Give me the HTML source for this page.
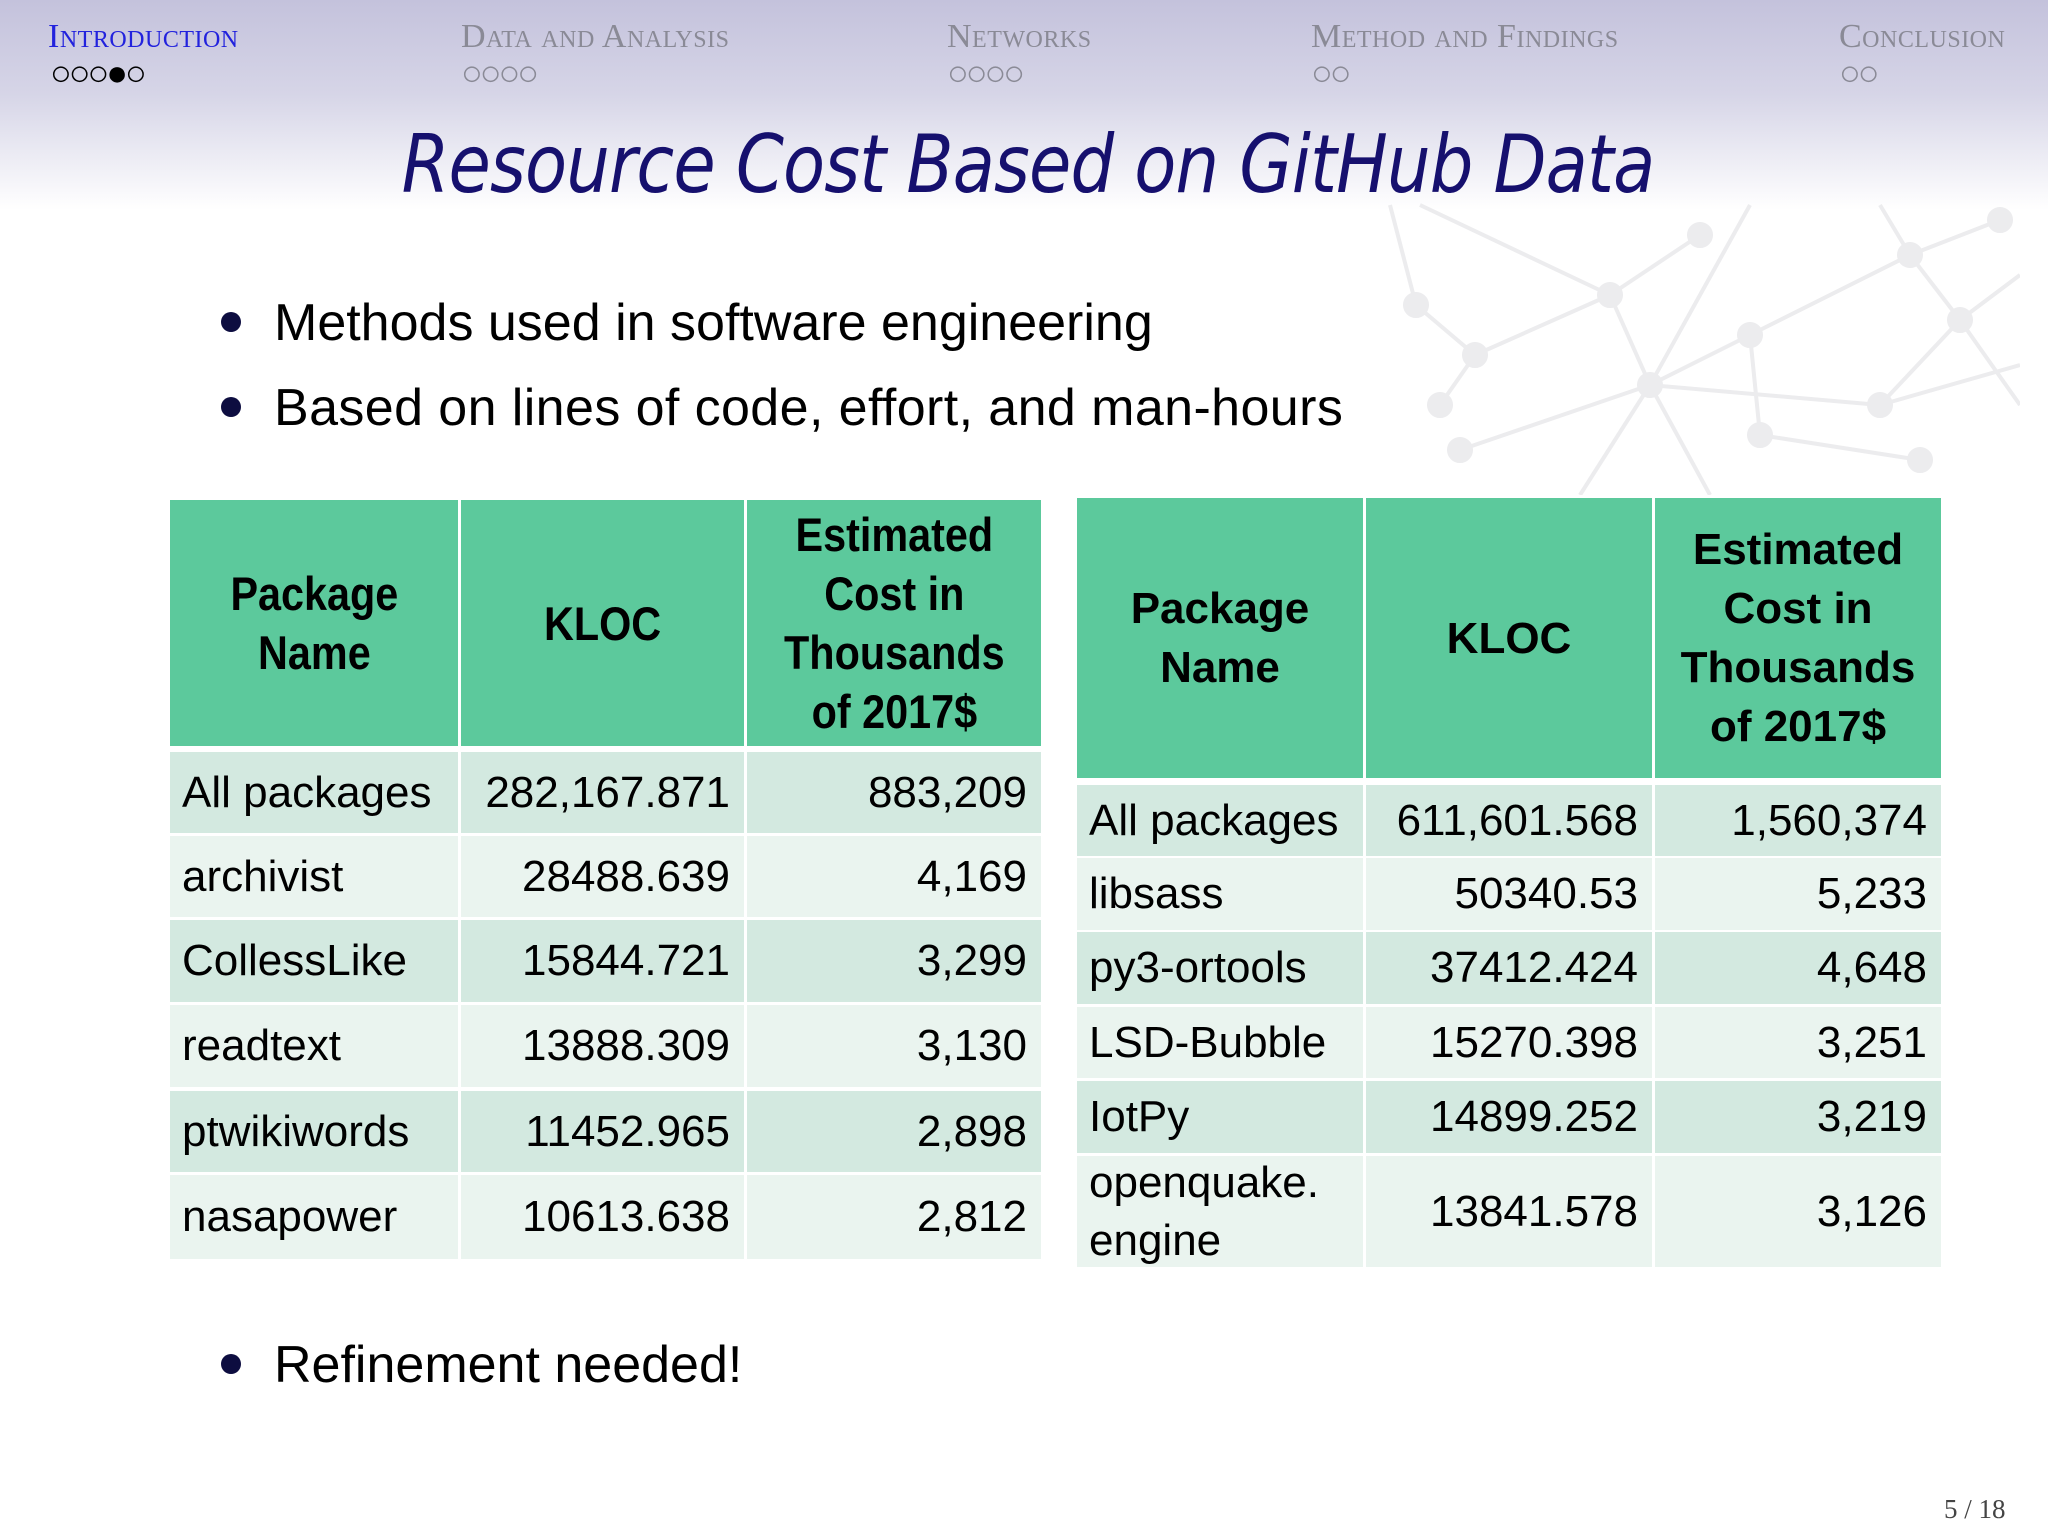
<!DOCTYPE html>
<html><head><meta charset="utf-8">
<style>
body{margin:0;}
#slide{position:relative;width:2048px;height:1536px;background:#fff;overflow:hidden;font-family:"Liberation Sans",sans-serif;}
#band{position:absolute;left:0;top:0;width:2048px;height:210px;background:linear-gradient(#c4c2dc 0%,#d6d5e7 45%,#fff 100%);}
.nav{position:absolute;top:18px;font-family:"Liberation Serif",serif;font-size:34px;color:#8a8a96;font-variant:small-caps;letter-spacing:0.5px;}
.dots{position:absolute;top:52px;font-size:36px;color:#8a8a96;letter-spacing:-3px;}
.t{position:absolute;}
.cell{position:absolute;box-sizing:border-box;display:flex;align-items:center;font-size:44px;color:#000;}
.hd{background:#5cc99c;font-weight:bold;justify-content:center;text-align:center;line-height:59px;}
.l{padding-left:12px;}
.r{justify-content:flex-end;padding-right:14px;}
.bul{position:absolute;font-size:52px;color:#000;}
.dot{position:absolute;width:20px;height:20px;border-radius:50%;background:#0d0d40;}
</style></head>
<body>
<div id="slide">
<div id="band"></div>
<div class="nav" style="left:48px;color:#2222dd">Introduction</div>
<div class="nav" style="left:461px">Data and Analysis</div>
<div class="nav" style="left:947px">Networks</div>
<div class="nav" style="left:1311px">Method and Findings</div>
<div class="nav" style="left:1839px">Conclusion</div>
<div class="dots" style="left:50px;color:#000">○○○●○</div>
<div class="dots" style="left:461px">○○○○</div>
<div class="dots" style="left:947px">○○○○</div>
<div class="dots" style="left:1311px">○○</div>
<div class="dots" style="left:1839px">○○</div>

<svg class="t" style="left:1380px;top:195px" width="640" height="300" stroke="#ececee" stroke-width="4" fill="#ececee">
<line x1="10" y1="10" x2="36" y2="110"/><line x1="36" y1="110" x2="95" y2="160"/><line x1="95" y1="160" x2="230" y2="100"/><line x1="230" y1="100" x2="320" y2="40"/><line x1="40" y1="10" x2="230" y2="100"/><line x1="230" y1="100" x2="270" y2="190"/><line x1="270" y1="190" x2="370" y2="140"/><line x1="370" y1="140" x2="530" y2="60"/><line x1="530" y1="60" x2="620" y2="25"/><line x1="530" y1="60" x2="580" y2="125"/><line x1="580" y1="125" x2="640" y2="80"/><line x1="580" y1="125" x2="500" y2="210"/><line x1="270" y1="190" x2="500" y2="210"/><line x1="370" y1="140" x2="380" y2="240"/><line x1="380" y1="240" x2="540" y2="265"/><line x1="270" y1="190" x2="80" y2="255"/><line x1="270" y1="190" x2="200" y2="300"/><line x1="270" y1="190" x2="330" y2="300"/><line x1="370" y1="10" x2="270" y2="190"/><line x1="500" y1="210" x2="640" y2="170"/><line x1="95" y1="160" x2="60" y2="210"/><line x1="500" y1="10" x2="530" y2="60"/><line x1="580" y1="125" x2="640" y2="210"/>
<circle cx="36" cy="110" r="11"/><circle cx="95" cy="160" r="11"/><circle cx="230" cy="100" r="11"/><circle cx="320" cy="40" r="11"/><circle cx="270" cy="190" r="11"/><circle cx="370" cy="140" r="11"/><circle cx="530" cy="60" r="11"/><circle cx="580" cy="125" r="11"/><circle cx="500" cy="210" r="11"/><circle cx="380" cy="240" r="11"/><circle cx="540" cy="265" r="11"/><circle cx="80" cy="255" r="11"/><circle cx="60" cy="210" r="11"/><circle cx="620" cy="25" r="11"/>
</svg>

<div class="t" style="left:0;width:2056px;top:118px;text-align:center;font-size:80px;font-style:italic;color:#16106e;font-family:'DejaVu Sans','Liberation Sans',sans-serif;letter-spacing:-1px;transform:scaleX(0.86)">Resource Cost Based on GitHub Data</div>

<div class="dot" style="left:221px;top:312px"></div>
<div class="bul" style="left:274px;top:293px">Methods used in software engineering</div>
<div class="dot" style="left:221px;top:397px"></div>
<div class="bul" style="left:274px;top:378px;letter-spacing:0.4px">Based on lines of code, effort, and man-hours</div>
<div class="dot" style="left:221px;top:1354px"></div>
<div class="bul" style="left:274px;top:1335px">Refinement needed!</div>

<div id="tables"></div>
<div class="t" style="left:1944px;top:1494px;font-family:'Liberation Serif',serif;font-size:27px;color:#444">5 / 18</div>
</div>
<script>
const leftNames=["All packages","archivist","CollessLike","readtext","ptwikiwords","nasapower"];
const leftKloc=["282,167.871","28488.639","15844.721","13888.309","11452.965","10613.638"];
const leftCost=["883,209","4,169","3,299","3,130","2,898","2,812"];
const rightNames=["All packages","libsass","py3-ortools","LSD-Bubble","IotPy","openquake.<br>engine"];
const rightKloc=["611,601.568","50340.53","37412.424","15270.398","14899.252","13841.578"];
const rightCost=["1,560,374","5,233","4,648","3,251","3,219","3,126"];
const headers=["Package<br>Name","KLOC","Estimated<br>Cost in<br>Thousands<br>of 2017$"];
const host=document.getElementById('tables');
function table(name,cols,hTop,hBot,rowTops,names,kloc,cost,condensed){
  for(let c=0;c<3;c++){
    const d=document.createElement('div');
    
    
    d.className='cell hd';
    d.style.left=cols[c][0]+'px';d.style.width=(cols[c][1]-cols[c][0])+'px';
    d.style.top=hTop+'px';d.style.height=(hBot-hTop)+'px';
    d.innerHTML='<span style="display:inline-block;'+(condensed?'font-size:47px;transform:scaleX(0.88)':'')+'">'+headers[c]+'</span>';
    host.appendChild(d);
  }
  for(let r=0;r<names.length;r++){
    const vals=[names[r],kloc[r],cost[r]];
    for(let c=0;c<3;c++){
      const d=document.createElement('div');
      
      
      d.className='cell '+(c==0?'l':'r');
      d.style.background=r%2==0?'#d3e9e0':'#eaf4ef';
      d.style.left=cols[c][0]+'px';d.style.width=(cols[c][1]-cols[c][0])+'px';
      d.style.top=rowTops[r][0]+'px';d.style.height=(rowTops[r][1]-rowTops[r][0])+'px';
      d.style.lineHeight='58px';
      d.innerHTML=vals[c];
      host.appendChild(d);
    }
  }
}
table('left-table',[[170,458],[461,744],[747,1041]],500,746,
 [[752,833],[836,917],[920,1002],[1005,1087],[1091,1172],[1175,1259]],leftNames,leftKloc,leftCost,true);
table('right-table',[[1077,1363],[1366,1652],[1655,1941]],498,778,
 [[785,856],[858,930],[932,1004],[1007,1078],[1081,1153],[1156,1267]],rightNames,rightKloc,rightCost,false);
</script>
</body></html>
